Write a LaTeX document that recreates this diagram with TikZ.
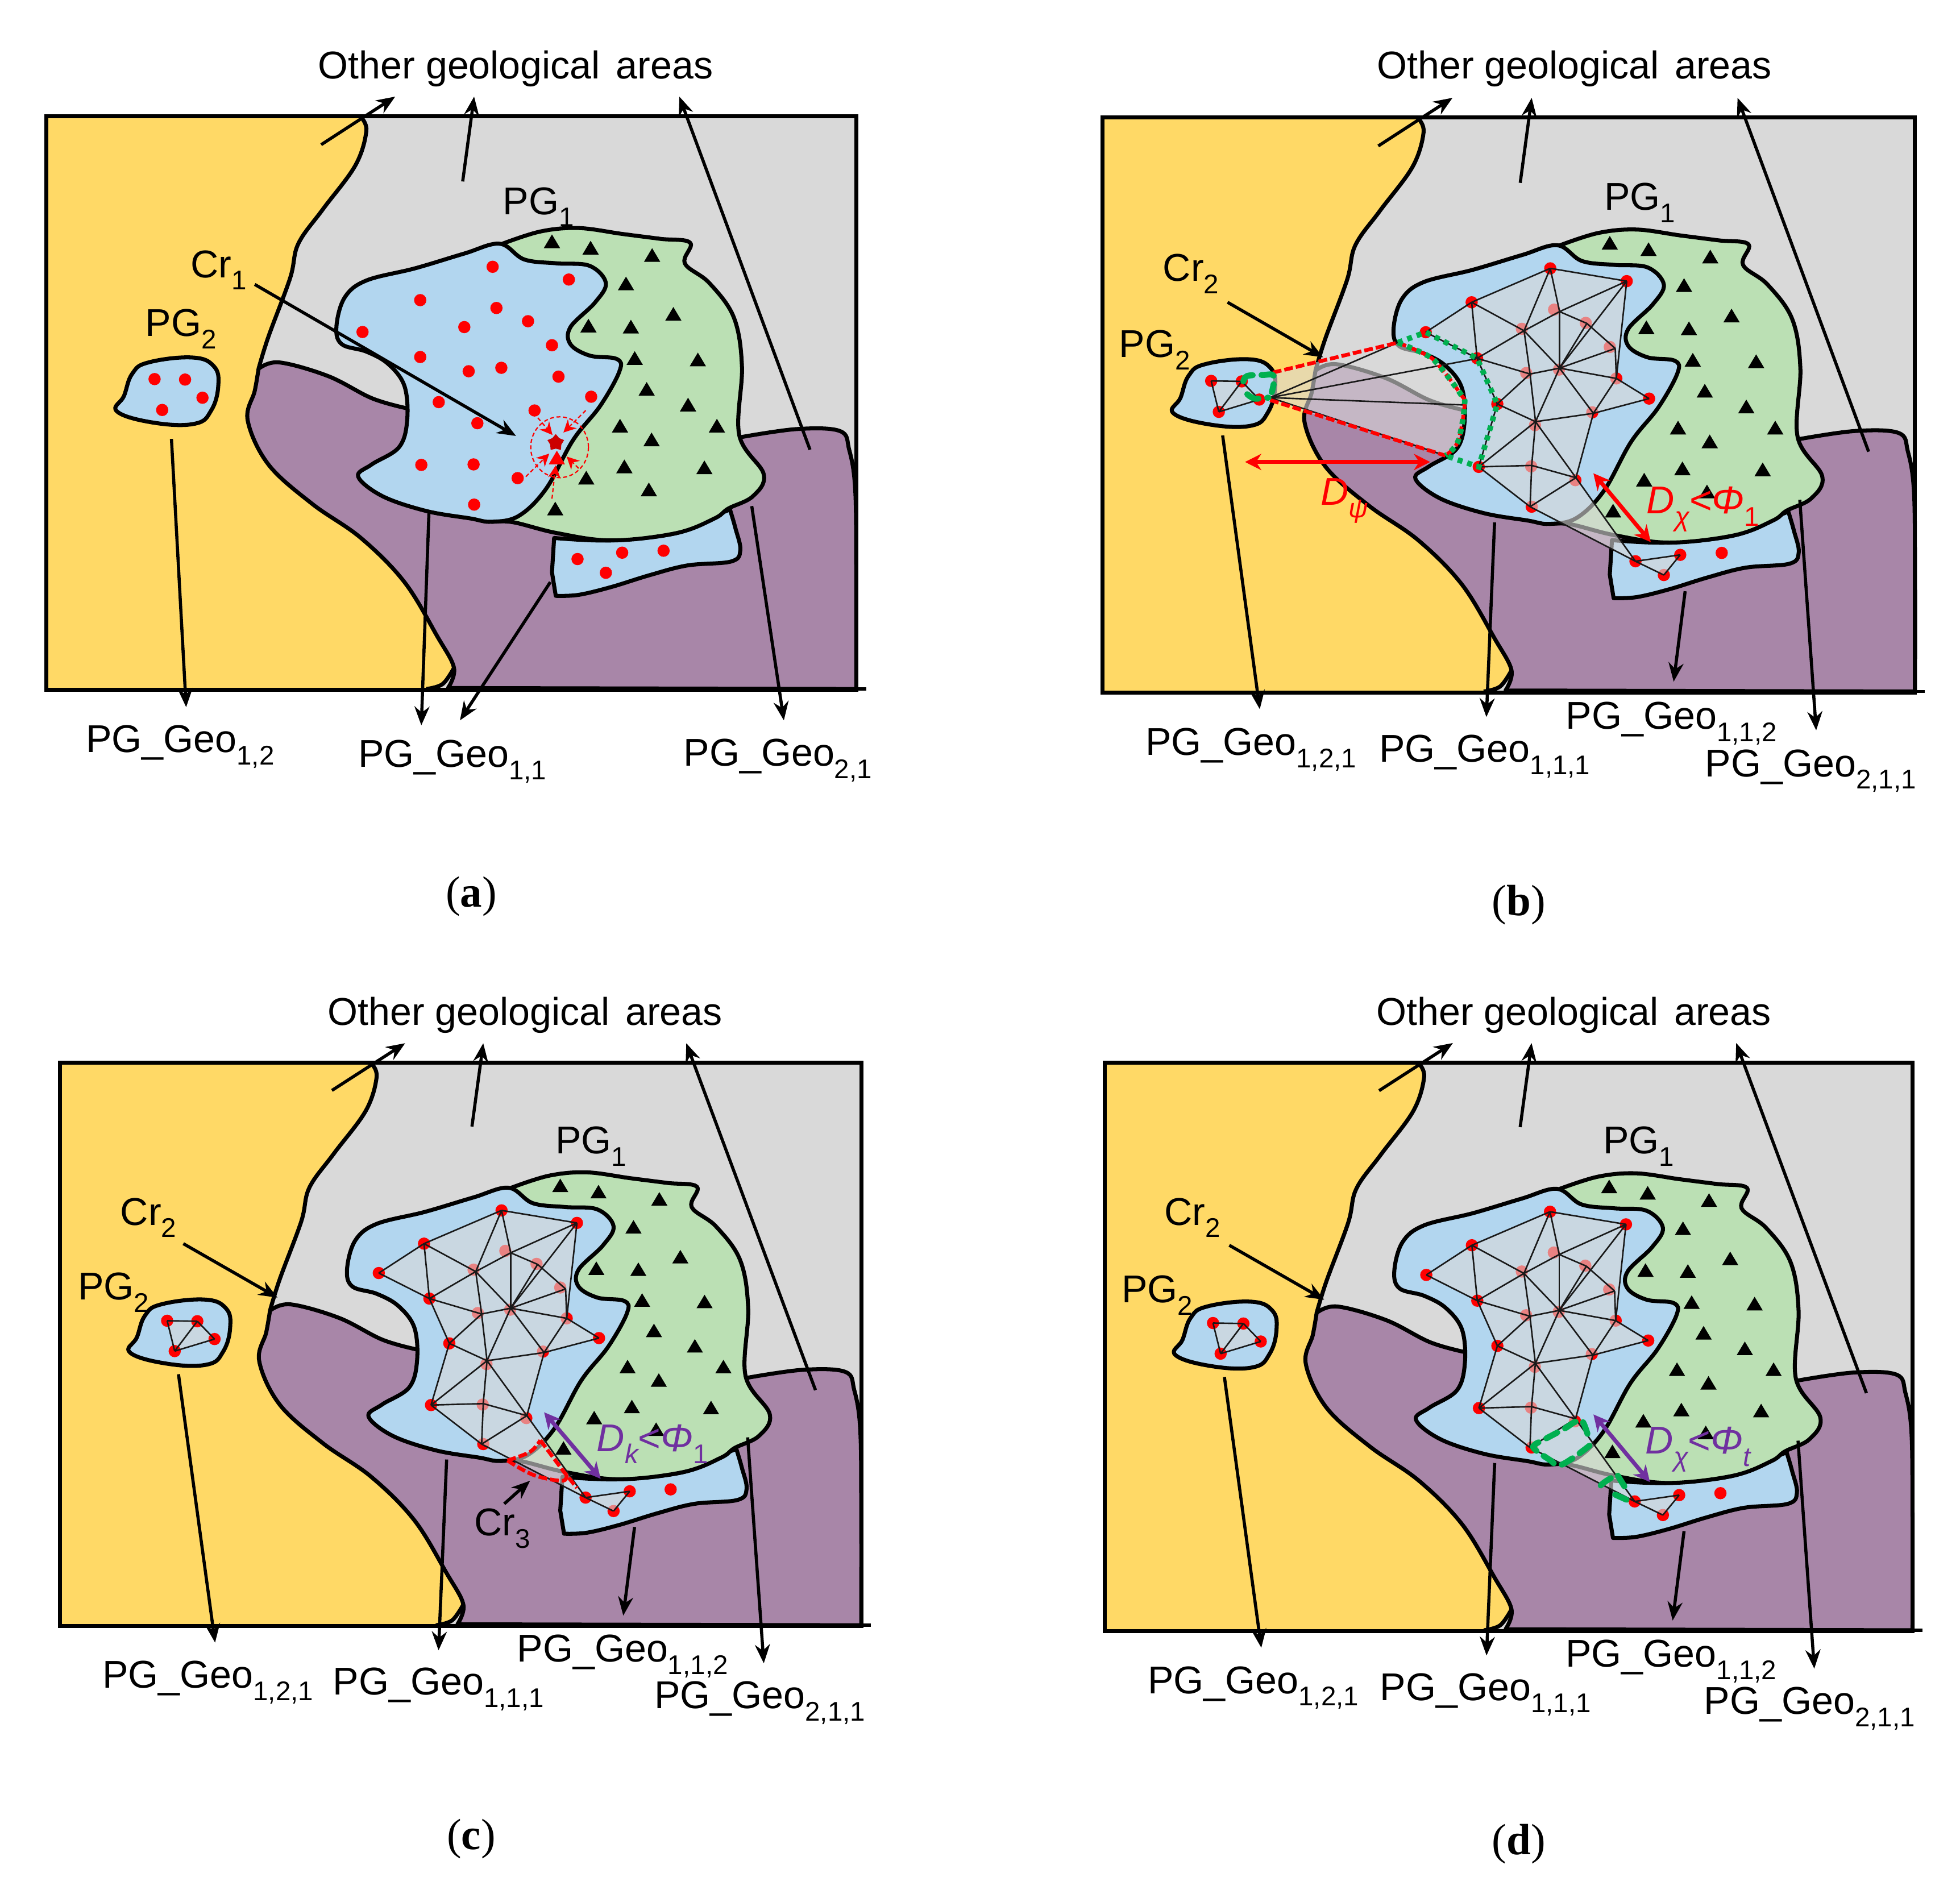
\documentclass[tikz,border=0pt]{standalone}
\usepackage{fontspec}
\setmainfont{Liberation Sans}
\newfontfamily\capfont{Liberation Serif}
\usetikzlibrary{arrows.meta,shapes.geometric}
\definecolor{cyel}{HTML}{FFD966}
\definecolor{cgry}{HTML}{D9D9D9}
\definecolor{cpur}{HTML}{A886A8}
\definecolor{cgrn}{HTML}{BBE0B4}
\definecolor{cblu}{HTML}{B2D6EF}
\definecolor{cvio}{HTML}{7030A0}
\definecolor{cdgr}{HTML}{00B050}
\newcommand\lowsub[1]{\raisebox{-0.32em}{\fontsize{10.8}{12}\selectfont #1}}
\tikzset{
  outline/.style={draw=black,line width=1.6pt,line join=round},
  shp/.style={smooth,tension=.6},
  dotn/.style={circle,fill=red,inner sep=0pt,minimum size=4.9pt},
  arr/.style={line width=1.25pt,-{Stealth[length=7.5pt,width=6pt]}},
  mesh/.style={line width=.6pt,black!90},
  veil/.style={fill=cgry,fill opacity=.6},
  lab/.style={font=\fontsize{15.5}{18}\selectfont,anchor=base west,inner sep=0pt},
  toplab/.style={font=\fontsize{15.5}{18}\selectfont,inner sep=0pt},
  caplab/.style={font=\capfont\fontsize{17.5}{20}\selectfont,inner sep=0pt},
  dbl/.style={line width=1.6pt,{Stealth[length=6.5pt,width=6.5pt]}-{Stealth[length=6.5pt,width=6.5pt]}},
  reddash/.style={draw=red,line width=1.5pt,dash pattern=on 3.5pt off 1.2pt},
  grndot/.style={draw=cdgr,line width=2.2pt,dash pattern=on 2pt off 2pt},
  grndash/.style={draw=cdgr,line width=2.4pt,line cap=round,dash pattern=on 5pt off 3.5pt},
  thin red/.style={draw=red,line width=.5pt,dash pattern=on 1.6pt off 1pt,-{Stealth[length=5pt,width=5pt]}},
}
\newcommand\MapBase{%
  \foreach \n/\x/\y in {p1/842/477,p2/982/503,p3/709/545,p4/849/561,p5/907/588,p6/790/600,p7/603/610,p8/951/637,p9/709/661,p10/798/690,p11/858/683,p12/963/701,p13/1023/742,p14/743/753,p15/919/770,p16/814/796,p17/711/881,p18/807/880,p19/888/908,p20/808/962,r1/998/1073,r2/1080/1060,r3/1156/1056,r4/1050/1101,q1/221/706,q2/277/707,q3/309/744,q4/235/769}{\coordinate (\n) at (\x,\y);}
  \fill[cgry] (22,170) rectangle (1510,1340);
  \fill[cyel] (22,170) -- plot[shp] coordinates {(600,170)(610,200)(590,270)(530,360)(485,430)(470,500)(430,620)(412,685)(405,730)(392,790)(430,880)(510,960)(600,1030)(680,1120)(740,1230)(771,1295)(750,1325)(720,1338)} -- (22,1340) -- cycle;
  \draw[outline] plot[shp] coordinates {(600,172)(610,200)(590,270)(530,360)(485,430)(470,500)(430,620)(412,685)};
  \path[outline,fill=cpur] plot[shp] coordinates {(412,685)(450,672)(540,700)(620,745)(682,765)} -- plot[shp] coordinates {(1295,825)(1400,808)(1480,812)(1497,850)(1508,930)(1510,1100)(1510,1338)} -- plot[shp] coordinates {(760,1336)(771,1295)(740,1230)(680,1120)(600,1030)(510,960)(430,880)(392,790)(405,730)(412,685)} -- cycle;
  \draw[outline] plot[shp] coordinates {(720,1338)(750,1328)(771,1295)};
  \path[outline,fill=cblu] (955,1030) -- plot[shp] coordinates {(955,1030)(1060,1035)(1180,1020)(1250,985)(1278,972)} -- plot[shp] coordinates {(1278,972)(1288,1010)(1297,1055)(1280,1078)(1200,1086)(1130,1106)(1060,1130)(1000,1146)(958,1148)} -- (951,1100) -- cycle;
  \path[outline,fill=cgrn] plot[shp] coordinates {(860,430)(930,405)(1000,398)(1080,410)(1150,420)(1205,428)(1195,470)(1240,510)(1285,580)(1300,680)(1295,820)(1340,900)(1320,945)(1275,970)(1250,990)(1180,1020)(1060,1035)(960,1020)(880,998)(840,997)} -- (800,700) -- cycle;
  \path[outline,fill=cblu] plot[smooth cycle,tension=.6] coordinates {(855,430)(900,462)(960,470)(1020,475)(1050,510)(1030,550)(985,600)(985,635)(1020,658)(1070,665)(1075,690)(1040,760)(990,830)(940,930)(890,985)(840,997)(800,990)(720,975)(640,945)(595,905)(620,880)(670,845)(685,790)(680,720)(650,675)(610,650)(565,635)(555,600)(570,540)(610,505)(700,480)(790,450)};
  \path[outline,fill=cblu] plot[smooth cycle,tension=.7] coordinates {(180,695)(210,672)(290,662)(330,680)(338,720)(325,770)(295,797)(220,795)(152,772)(165,740)};
  \foreach \x/\y in {951/425,1022/438,1135/453,1087/511,1174/573,1018/597,1096/599,1103/663,1219/666,1125/726,1201/758,1076/801,1254/801,1134/829,1084/884,1231/886,1014/907,1129/931,957/970}{\fill[black] (\x-15,\y+14) -- (\x+15,\y+14) -- (\x,\y-14) -- cycle;}
}
\newcommand\FadedDots{\foreach \n in {p4,p5,p6,p8,p10,p11,p12,p15,p16,p18,p19,p20,r4}{\node[dotn] (d\n) at (\n) {};}}
\newcommand\StrongDots{\foreach \n in {p1,p2,p3,p7,p9,p13,p14,p17,r1,r2,r3,q1,q2,q3,q4}{\node[dotn] (d\n) at (\n) {};}}
\newcommand\MeshPart{%
  \FadedDots
  % mesh vertices sit slightly off the sample dots once the network is built
  \foreach \n/\x/\y in {p3/698/546,p4/859/565,p5/909/589,p6/794/604,p7/614/607,p8/961/640,p9/708/660,p10/805/692,p11/859/680,p14/745/753,p15/921/772,p16/815/789,p18/808/878,p19/889/903,p20/805/962}{\coordinate (\n) at (\x,\y);}
  \path[veil] (p7) -- (p3) -- (p1) -- (p2) -- (p12) -- (p13) -- (p15) -- (p19) -- (r1) -- (p20) -- (p17) -- (p14) -- (p9) -- cycle;
  \path[veil] (r1) -- (r2) -- (r4) -- cycle;
  \path[veil] (q1) -- (q2) -- (q3) -- (q4) -- cycle;
  \StrongDots
  \foreach \a/\b in {p7/p3,p7/p9,p3/p1,p1/p2,p3/p6,p3/p9,p1/p6,p1/p4,p2/p4,p2/p11,p2/p12,p4/p6,p4/p5,p5/p8,p4/p11,p5/p11,p6/p9,p6/p10,p6/p11,p8/p11,p8/p12,p9/p10,p9/p14,p10/p11,p10/p14,p10/p16,p11/p16,p11/p12,p11/p15,p12/p13,p12/p15,p13/p15,p14/p16,p14/p17,p15/p16,p15/p19,p16/p17,p16/p18,p16/p19,p17/p18,p17/p20,p18/p19,p18/p20,p19/p20,p19/r1,p20/r1,r1/r2,r1/r4,r2/r4,q1/q2,q1/q4,q2/q4,q2/q3,q3/q4}{\draw[mesh] (\a) -- (\b);}
}
\newcommand\FrameLines{%
  \draw[line width=1.6pt] (22,170) rectangle (1510,1340);
  \draw[line width=1.3pt] (1510,1338) -- (1528,1338);
}
\newcommand\SharedArrows{%
  \foreach \n/\x/\y in {s1/527/228,e1/663/130,s2/787/303,e2/808/130,s3/1425/850,e3/1185/130}{\coordinate (\n) at (\x,\y);}
  \draw[arr] (s1) -- (e1);
  \draw[arr] (s2) -- (e2);
  \draw[arr] (s3) -- (e3);
}
\newcommand\LowerParts{%
  \foreach \n/\x/\y in {s4/242/817,e4/310/1374,s5/740/994,e5/725/1390,s6/1089/1134,e6/1068/1318,s7/1299/948,e7/1329/1417,s8/251/546,e8/426/658}{\coordinate (\n) at (\x,\y);}
  \draw[arr] (s4) -- (e4);
  \draw[arr] (s5) -- (e5);
  \draw[arr] (s6) -- (e6);
  \draw[arr] (s7) -- (e7);
  \draw[arr] (s8) -- (e8);
  \node[lab] (g121) at (100,1468) {PG\_Geo\lowsub{1,2,1}};
  \node[lab] (g111) at (528,1482) {PG\_Geo\lowsub{1,1,1}};
  \node[lab] (g112) at (870,1414) {PG\_Geo\lowsub{1,1,2}};
  \node[lab] (g211) at (1125,1511) {PG\_Geo\lowsub{2,1,1}};
}
\begin{document}
\begin{tikzpicture}[x=0.5pt,y=-0.5pt]
\path[use as bounding box] (0,0) rectangle (1568,1518.4);
% ---------- panel a
\begin{scope}[shift={(27.42,26.31)},x=.21774pt,y=-.19615pt]
  \MapBase
  \FadedDots
  \StrongDots
  \coordinate (cra) at (405,513);
  \coordinate (crb) at (885,822);
  \coordinate (ctr) at (965,845);
  \draw[red,line width=.5pt,dash pattern=on 1.6pt off 1pt] (ctr) ellipse [x radius=53,y radius=62];
  \fill[red] (945,880) -- (975,880) -- (960,852) -- cycle;
  \node[star,star points=5,fill=red!80!black,inner sep=0pt,minimum size=7pt] (st) at (958,836) {};
  \coordinate (ta) at (925,785); \coordinate (tb) at (952,820);
  \coordinate (tc) at (1013,770); \coordinate (td) at (972,815);
  \coordinate (te) at (903,905); \coordinate (tf) at (946,858);
  \coordinate (tg) at (1000,888); \coordinate (th) at (978,864);
  \coordinate (ti) at (951,950); \coordinate (tj) at (958,882);
  \draw[thin red] (ta) -- (tb);
  \draw[thin red] (tc) -- (td);
  \draw[thin red] (te) -- (tf);
  \draw[thin red] (tg) -- (th);
  \draw[thin red] (ti) -- (tj);
  \FrameLines
  \SharedArrows
  \draw[arr] (cra) -- (crb);
  \foreach \n/\x/\y in {s4/252/828,e4/279/1375,s5/725/978,e5/711/1412,s6/948/1120,e6/782/1402,s7/1318/965,e7/1377/1402}{\coordinate (\n) at (\x,\y);}
  \draw[arr] (s4) -- (e4);
  \draw[arr] (s5) -- (e5);
  \draw[arr] (s6) -- (e6);
  \draw[arr] (s7) -- (e7);
  \node[lab] (a12) at (94,1467) {PG\_Geo\lowsub{1,2}};
  \node[lab] (a11) at (594,1497) {PG\_Geo\lowsub{1,1}};
  \node[lab] (a21) at (1192,1495) {PG\_Geo\lowsub{2,1}};
\end{scope}
\node[toplab] (oa) at (412.5,55) {Other geological\hspace{2pt} areas};
\node[lab] (apg1) at (402,171.5) {PG\lowsub{1}};
\node[lab] (apg2) at (116,269) {PG\lowsub{2}};
\node[lab] (acr1) at (152,222) {Cr\lowsub{1}};
\node[caplab] (ca) at (377,717) {(\textbf{a})};
% ---------- panel b
\begin{scope}[shift={(872.39,27.16)},x=.21841pt,y=-.19658pt]
  \MapBase
  \MeshPart
  \foreach \n/\x/\y in {fa/334/689,fb/563/628,fc/650/858,fd/329/745,fe/329/740,ff/685/755,fg/706/661}{\coordinate (\n) at (\x,\y);}
  \path[veil] (fa) -- plot[shp] coordinates {(fb)(613,652)(636,672)(678,733)(685,755)(673,829)(fc)} -- (fd) -- cycle;
  \draw[mesh] (fe) -- (fb);
  \draw[mesh] (fe) -- (fg);
  \draw[mesh] (fe) -- (ff);
  \draw[mesh] (fe) -- (fc);
  \path[reddash] (fa) -- (fb);
  \path[reddash] (fd) -- (fc);
  \path[reddash] plot[shp] coordinates {(fb)(613,652)(636,672)(678,733)(685,755)(673,829)(fc)};
  \path[grndot] plot[shp] coordinates {(fb)(613,652)(636,672)(678,733)(685,755)(673,829)(fc)};
  \path[grndot] (fb) -- (p7) -- (p9) -- (p14) -- (p17) -- (fc);
  \path[grndash] plot[shp] coordinates {(280,707)(287,696)(315,694)(336,696)(332,729)};
  \path[grndash] plot[shp] coordinates {(287,733)(301,742)(326,740)};
  \FrameLines
  \SharedArrows
  \LowerParts
  \coordinate (da) at (283,871); \coordinate (db) at (622,871);
  \coordinate (dc) at (921,894); \coordinate (dd) at (1026,1034);
  \draw[dbl,red] (da) -- (db);
  \draw[dbl,red] (dc) -- (dd);
\end{scope}
\node[toplab] (ob) at (1259.5,55) {Other geological\hspace{2pt} areas};
\node[lab] (bpg1) at (1283,168) {PG\lowsub{1}};
\node[lab] (bpg2) at (895,286) {PG\lowsub{2}};
\node[lab] (bcr2) at (930,225) {Cr\lowsub{2}};
\node[lab,text=red] (bdp) at (1056,404) {\itshape D\lowsub{\itshape ψ}};
\node[lab,text=red] (bdx) at (1317,411) {\itshape D\lowsub{\itshape χ}\upshape <\itshape Φ\lowsub{\upshape 1}};
\node[caplab] (cb) at (1215,724) {(\textbf{b})};
% ---------- panel c
\begin{scope}[shift={(38.52,784.47)},x=.21539pt,y=-.19274pt]
  \MapBase
  \MeshPart
  \foreach \n/\x/\y in {ca1/853/996,ca2/901/1026,ca3/956/1038,ca4/962/1020,ca5/914/954,ca6/982/1053,ca7/847/1086,ca8/895/1038,ca9/921/896,ca0/1026/1034}{\coordinate (\n) at (\x,\y);}
  \path[reddash] plot[shp] coordinates {(ca1)(895,978)(ca5)};
  \path[reddash] (ca5) -- (956,1017) -- (ca6);
  \path[reddash] plot[shp] coordinates {(ca1)(ca2)(ca3)(ca4)};
  \FrameLines
  \SharedArrows
  \LowerParts
  \draw[arr] (ca7) -- (ca8);
  \draw[dbl,cvio] (ca9) -- (ca0);
\end{scope}
\node[toplab] (oc) at (420,812) {Other geological\hspace{2pt} areas};
\node[lab] (cpg1) at (444,923) {PG\lowsub{1}};
\node[lab] (cpg2) at (62,1040) {PG\lowsub{2}};
\node[lab] (ccr2) at (96,980) {Cr\lowsub{2}};
\node[lab] (ccr3) at (379,1228.6) {Cr\lowsub{3}};
\node[lab,text=cvio] (cdk) at (477,1161) {\itshape D\lowsub{\itshape k}\upshape <\itshape Φ\lowsub{\upshape 1}};
\node[caplab] (cc) at (377,1471) {(\textbf{c})};
% ---------- panel d
\begin{scope}[shift={(874.45,783.89)},x=.21707pt,y=-.19444pt]
  \MapBase
  \MeshPart
  \foreach \n/\x/\y in {da1/922/894,da2/1026/1033}{\coordinate (\n) at (\x,\y);}
  \path[grndash] plot[shp] coordinates {(911,934)(901,907)(887,910)(869,923)(834,944)(813,957)(815,967)(842,988)(858,999)(885,983)(922,952)};
  \path[grndash] (967,1020) -- (984,1051);
  \path[grndash] plot[shp] coordinates {(954,1025)(935,1041)(943,1054)};
  \path[grndash] (962,1059) -- (992,1074);
  \FrameLines
  \SharedArrows
  \LowerParts
  \draw[dbl,cvio] (da1) -- (da2);
\end{scope}
\node[toplab] (od) at (1259,812) {Other geological\hspace{2pt} areas};
\node[lab] (dpg1) at (1282,923) {PG\lowsub{1}};
\node[lab] (dpg2) at (897,1042) {PG\lowsub{2}};
\node[lab] (dcr2) at (931,980) {Cr\lowsub{2}};
\node[lab,text=cvio] (ddx) at (1316,1163) {\itshape D\lowsub{\itshape χ}\upshape <\itshape Φ\lowsub{\itshape t}};
\node[caplab] (cd) at (1215,1475) {(\textbf{d})};
\end{tikzpicture}
\end{document}
